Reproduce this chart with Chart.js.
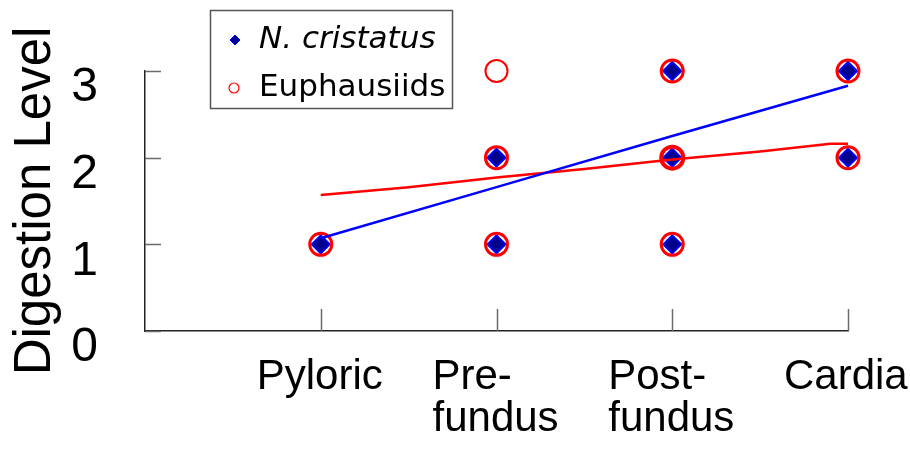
<!DOCTYPE html>
<html>
<head>
<meta charset="utf-8">
<title>Digestion Level</title>
<script src="https://cdn.jsdelivr.net/npm/chart.js@4.4.1/dist/chart.umd.min.js"></script>
<style>
  html, body { margin: 0; padding: 0; background: #fff; }
  #wrap { width: 910px; height: 466px; }
</style>
</head>
<body>
<div id="wrap"><canvas id="digestion-chart" width="910" height="466"></canvas></div>
<script>
// categories on the x axis (positions 1..4)
var categories = ['Pyloric', ['Pre-', 'fundus'], ['Post-', 'fundus'], 'Cardia'];
var yTickLabels = ['0', '1', '2', '3'];

// N. cristatus observations
var cristatusX = [1, 2, 2, 3, 3, 3, 4, 4];
var cristatusY = [1, 1, 2, 1, 2, 3, 2, 3];

// Euphausiids observations
var euphausiidX = [1, 2, 2, 2, 3, 3, 3, 4, 4];
var euphausiidY = [1, 1, 2, 3, 1, 2, 3, 2, 3];

// fitted curves
var cristatusFitX = [1, 2, 3, 4];
var cristatusFitY = [1.07, 1.66, 2.25, 2.83];
var euphausiidFitX = [1, 1.5, 2, 2.5, 3, 3.5, 3.9, 4];
var euphausiidFitY = [1.57, 1.66, 1.77, 1.87, 1.98, 2.07, 2.16, 2.16];

function pairs(xs, ys) {
  return xs.map(function (x, i) { return { x: x, y: ys[i] }; });
}

// tick marks pointing into the plot
var innerTicks = {
  id: 'innerTicks',
  beforeDatasetsDraw: function (chart) {
    var ctx = chart.ctx, area = chart.chartArea;
    var xs = chart.scales.x, ys = chart.scales.y;
    ctx.save();
    ctx.strokeStyle = '#6b6b6b';
    ctx.lineWidth = 1.5;
    ctx.beginPath();
    xs.ticks.forEach(function (t) {
      if (t.value === 0) return;
      var px = Math.round(xs.getPixelForValue(t.value)) + 0.5;
      ctx.moveTo(px, area.bottom);
      ctx.lineTo(px, area.bottom - 22);
    });
    ys.ticks.forEach(function (t) {
      var py = Math.round(ys.getPixelForValue(t.value)) + 0.5;
      ctx.moveTo(area.left, py);
      ctx.lineTo(area.left + 16, py);
    });
    ctx.stroke();
    ctx.restore();
  }
};

// boxed legend, one label italic
var boxLegend = {
  id: 'boxLegend',
  afterDraw: function (chart) {
    var ctx = chart.ctx;
    var blue = chart.data.datasets[3];
    var red = chart.data.datasets[2];
    ctx.save();
    ctx.fillStyle = '#fff';
    ctx.fillRect(210, 10, 242, 98);
    ctx.strokeStyle = '#555';
    ctx.lineWidth = 1.5;
    ctx.strokeRect(210.5, 10.5, 242, 98);

    // diamond
    ctx.beginPath();
    ctx.moveTo(235, 35);
    ctx.lineTo(240, 40);
    ctx.lineTo(235, 45);
    ctx.lineTo(230, 40);
    ctx.closePath();
    ctx.fillStyle = blue.backgroundColor;
    ctx.fill();
    ctx.strokeStyle = blue.borderColor;
    ctx.lineWidth = 1;
    ctx.stroke();

    // circle
    ctx.beginPath();
    ctx.arc(234, 88, 5, 0, Math.PI * 2);
    ctx.strokeStyle = red.borderColor;
    ctx.lineWidth = 1.2;
    ctx.stroke();

    ctx.fillStyle = '#000';
    ctx.textBaseline = 'middle';
    ctx.font = 'italic 31px "DejaVu Sans"';
    ctx.fillText('N. cristatus', 259, 40);
    ctx.font = '31px "DejaVu Sans"';
    ctx.fillText('Euphausiids', 259, 88);
    ctx.restore();
  }
};

var ctx = document.getElementById('digestion-chart');

new Chart(ctx, {
  type: 'scatter',
  data: {
    datasets: [
      {
        label: 'N. cristatus fit',
        type: 'line',
        data: pairs(cristatusFitX, cristatusFitY),
        borderColor: '#0000ff',
        borderWidth: 2.5,
        pointRadius: 0,
        fill: false,
        tension: 0,
        clip: false,
        order: 1,
      },
      {
        label: 'Euphausiids fit',
        type: 'line',
        data: pairs(euphausiidFitX, euphausiidFitY),
        borderColor: '#ff0000',
        borderWidth: 2.5,
        pointRadius: 0,
        fill: false,
        tension: 0,
        clip: false,
        order: 2,
      },
      {
        label: 'Euphausiids',
        data: pairs(euphausiidX, euphausiidY),
        pointStyle: 'circle',
        pointRadius: 11,
        borderColor: '#ff0000',
        backgroundColor: 'rgba(0,0,0,0)',
        borderWidth: [3, 3, 3, 2, 3, 4, 3, 3, 3],
        clip: false,
        order: 3,
      },
      {
        label: 'N. cristatus',
        data: pairs(cristatusX, cristatusY),
        pointStyle: 'rectRot',
        pointRadius: 9,
        backgroundColor: '#00008c',
        borderColor: '#0000ff',
        borderWidth: 2,
        clip: false,
        order: 4,
      },
    ],
  },
  options: {
    responsive: false,
    animation: false,
    events: [],
    layout: {
      padding: { top: 71, right: 62, left: 0, bottom: 0 },
    },
    plugins: {
      legend: { display: false },
      tooltip: { enabled: false },
    },
    scales: {
      x: {
        type: 'linear',
        min: 0,
        max: 4,
        grid: { display: false, drawTicks: false },
        border: { display: true, color: '#222', width: 1.5 },
        ticks: {
          stepSize: 1,
          autoSkip: false,
          maxRotation: 0,
          align: 'start',
          labelOffset: -64,
          padding: 25,
          color: '#000',
          font: { family: '"Liberation Sans", Arial, sans-serif', size: 42, lineHeight: 1.0 },
          callback: function (value) {
            return value >= 1 ? categories[value - 1] : '';
          },
        },
        afterFit: function (scale) {
          scale.height = 135;
          scale.paddingLeft = 0;
          scale.paddingRight = 0;
        },
      },
      y: {
        type: 'linear',
        min: 0,
        max: 3,
        grid: { display: false, drawTicks: false },
        border: { display: true, color: '#222', width: 1.5 },
        ticks: {
          stepSize: 1,
          padding: 47,
          labelOffset: 17,
          color: '#000',
          font: { family: '"Liberation Sans", Arial, sans-serif', size: 48 },
          callback: function (value) {
            return yTickLabels[value];
          },
        },
        title: {
          display: true,
          text: 'Digestion Level',
          color: '#000',
          padding: { top: 10, bottom: 0 },
          font: { family: '"Liberation Sans", Arial, sans-serif', size: 51, lineHeight: 1.0 },
        },
        afterFit: function (scale) {
          scale.width = 145;
          scale.paddingTop = 0;
          scale.paddingBottom = 0;
        },
      },
    },
  },
  plugins: [innerTicks, boxLegend],
});
</script>
</body>
</html>
